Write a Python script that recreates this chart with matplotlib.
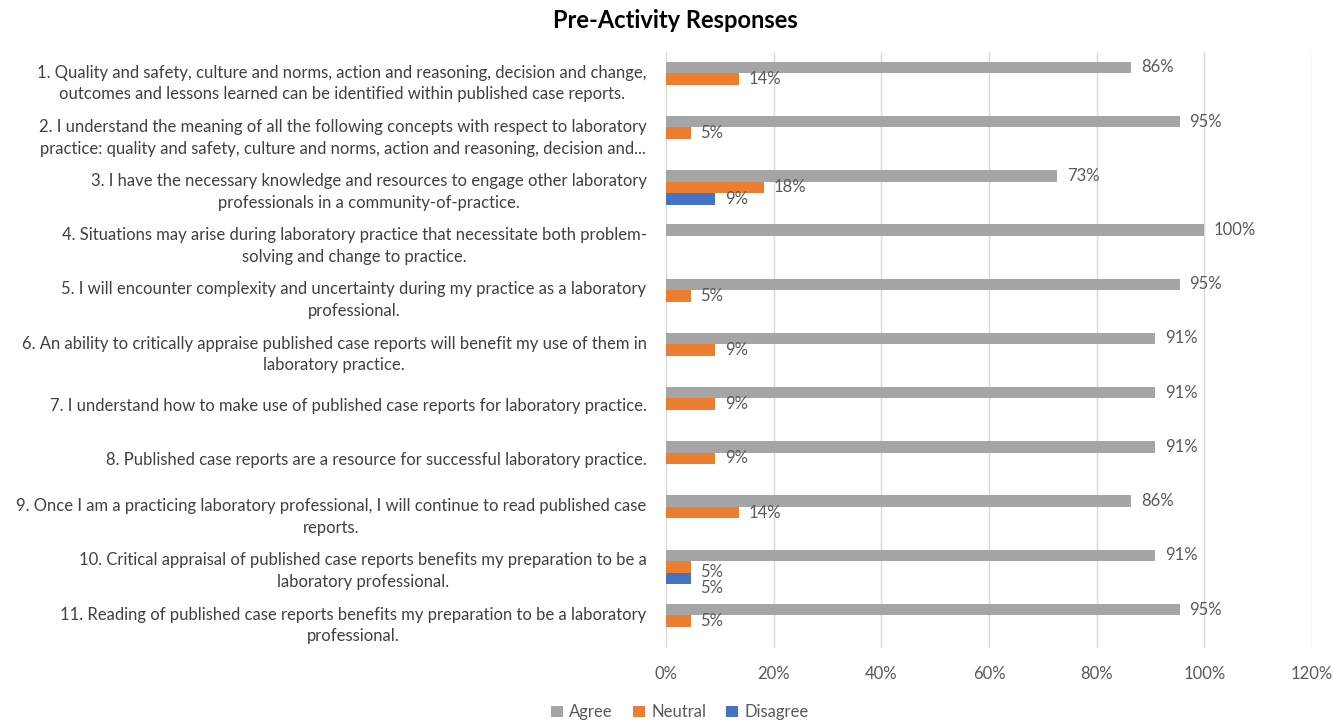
import matplotlib
matplotlib.use('Agg')
import matplotlib.pyplot as plt
import numpy as np
from matplotlib.ticker import PercentFormatter

plt.rcParams['font.family'] = ['Lato', 'DejaVu Sans']

# Survey statements, top to bottom
statements = [
    '1. Quality and safety, culture and norms, action and reasoning, decision and change,\n'
    'outcomes and lessons learned can be identified within published case reports.',
    '2. I understand the meaning of all the following concepts with respect to laboratory\n'
    'practice: quality and safety, culture and norms, action and reasoning, decision and...',
    '3. I have the necessary knowledge and resources to engage other laboratory\n'
    'professionals in a community-of-practice.',
    '4. Situations may arise during laboratory practice that necessitate both problem-\n'
    'solving and change to practice.',
    '5. I will encounter complexity and uncertainty during my practice as a laboratory\n'
    'professional.',
    '6. An ability to critically appraise published case reports will benefit my use of them in\n'
    'laboratory practice.',
    '7. I understand how to make use of published case reports for laboratory practice.',
    '8. Published case reports are a resource for successful laboratory practice.',
    '9. Once I am a practicing laboratory professional, I will continue to read published case\n'
    'reports.',
    '10. Critical appraisal of published case reports benefits my preparation to be a\n'
    'laboratory professional.',
    '11. Reading of published case reports benefits my preparation to be a laboratory\n'
    'professional.',
]

agree = [0.864, 0.954, 0.727, 1.0, 0.954, 0.909, 0.909, 0.909, 0.864, 0.909, 0.954]
neutral = [0.136, 0.046, 0.182, 0.0, 0.046, 0.091, 0.091, 0.091, 0.136, 0.046, 0.046]
disagree = [0.0, 0.0, 0.091, 0.0, 0.0, 0.0, 0.0, 0.0, 0.0, 0.046, 0.0]

series = [('Agree', agree, '#A5A5A5'),
          ('Neutral', neutral, '#ED7D31'),
          ('Disagree', disagree, '#4472C4')]

fig = plt.figure(figsize=(13.33, 7.21), dpi=100)
ax = fig.add_axes([0.4996, 0.101, 0.4846, 0.827])

y = np.arange(len(statements))
h = 0.213
for k, (name, vals, color) in enumerate(series):
    pos = y + (k - 1) * h
    ax.barh(pos, vals, height=h, color=color, label=name, zorder=3)
    for i, (p, v) in enumerate(zip(pos, vals)):
        if v <= 0:
            continue
        # nudge labels down when neutral and disagree labels would collide
        dy = 0
        if neutral[i] > 0 and disagree[i] > 0 and abs(neutral[i] - disagree[i]) < 0.05:
            dy = -3.6 if k == 1 else (-7.2 if k == 2 else 0)
        ax.annotate('{:.0%}'.format(v), (v, p), xytext=(7, dy),
                    textcoords='offset points', va='center', ha='left',
                    fontsize=12, color='#595959')

ax.set_xlim(0, 1.2)
ax.set_ylim(len(statements) - 0.5, -0.5)
ax.set_xticks(np.arange(0, 1.21, 0.2))
ax.xaxis.set_major_formatter(PercentFormatter(1.0, decimals=0))
ax.set_yticks(y)
ax.set_yticklabels(statements, fontsize=12, color='#404040',
                   multialignment='center', linespacing=1.45)
ax.tick_params(axis='y', length=0, pad=14)
ax.tick_params(axis='x', length=0, pad=13, labelsize=12, labelcolor='#595959')
ax.grid(axis='x', color='#D9D9D9', linewidth=1, zorder=0)
for s in ax.spines.values():
    s.set_visible(False)

fig.suptitle('Pre-Activity Responses', x=0.507, y=0.987, fontsize=17,
             fontweight='bold', color='#000000')

fig.legend(loc='lower center', bbox_to_anchor=(0.51, -0.02), ncol=3, frameon=False,
           fontsize=12, handlelength=0.7, handleheight=0.7, handletextpad=0.4,
           columnspacing=1.2, labelcolor='#595959')

fig.savefig('out.png', dpi=100)
